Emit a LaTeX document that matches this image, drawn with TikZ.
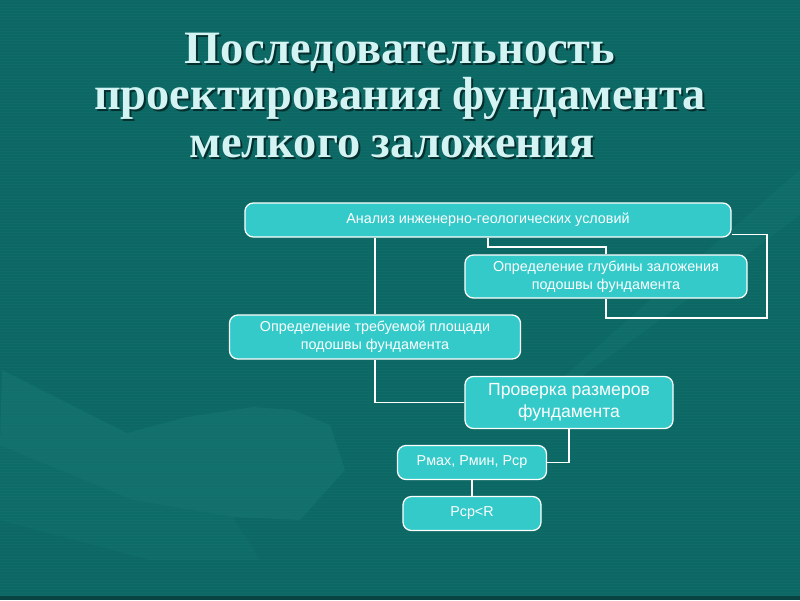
\documentclass[tikz,border=0pt]{standalone}
\usepackage{fontspec}
\setmainfont{Liberation Serif}
\setsansfont{Liberation Sans}
\definecolor{bgc}{RGB}{11,104,100}
\definecolor{handc}{RGB}{26,124,120}
\definecolor{boxc}{RGB}{52,202,202}
\definecolor{titlec}{RGB}{212,244,244}
\begin{document}
\begin{tikzpicture}[x=0.025cm,y=-0.025cm,
  box/.style={draw=white, line width=0.9pt, fill=boxc, rounded corners=6pt, text=white,
    font=\sffamily\fontsize{10.2}{13}\selectfont, align=center, inner sep=0pt},
  bigbox/.style={box, font=\sffamily\fontsize{12.5}{15.5}\selectfont},
  link/.style={draw=white, line width=1.3pt},
  ttl/.style={font=\bfseries\fontsize{33}{33}\selectfont, anchor=base, inner sep=0pt},
  ttlshadow/.style={ttl, text=black, opacity=0.55},
  ttlmain/.style={ttl, text=titlec}]
% background
\fill[bgc] (0,0) rectangle (800,600);
\useasboundingbox (0,0) rectangle (800,600);
\foreach \i in {1,4,...,598} \draw[white, opacity=0.025, line width=0.4pt] (0,\i) -- (800,\i);
% faint hand
\fill[handc, opacity=0.4] (2,370) -- (127,433) -- (187,417) -- (253,407) -- (293,410) -- (330,425)
  -- (345,470) -- (300,520) -- (233,517) -- (133,500) -- (60,470) -- (0,445) -- cycle;
\fill[handc, opacity=0.22] (0,445) -- (133,500) -- (233,517) -- (260,560) -- (150,560) -- (0,520) -- cycle;
\fill[handc, opacity=0.25] (560,380) -- (650,300) -- (800,170) -- (800,215) -- (660,320) -- (570,385) -- cycle;
\fill[black, opacity=0.35] (0,596) rectangle (800,600);
% title
\node[ttlshadow] at (402,65) {Последовательность};
\node[ttlmain] (t1) at (400,63) {Последовательность};
\node[ttlshadow] at (402,111) {проектирования фундамента};
\node[ttlmain] (t2) at (400,109) {проектирования фундамента};
\node[ttlshadow] at (394,159) {мелкого заложения};
\node[ttlmain] (t3) at (392,157) {мелкого заложения};
% boxes
\node[box, minimum width=12.15cm, minimum height=0.85cm] (a) at (488,220) {Анализ инженерно-геологических условий};
\node[box, minimum width=7.05cm, minimum height=1.075cm] (b) at (606,276.5) {Определение глубины заложения\\подошвы фундамента};
\node[box, minimum width=7.275cm, minimum height=1.1cm] (c) at (375,337) {Определение требуемой площади\\подошвы фундамента};
\node[bigbox, minimum width=5.2cm, minimum height=1.3cm] (d) at (569,402.5) {Проверка размеров\\фундамента};
\node[box, minimum width=3.725cm, minimum height=0.85cm] (e) at (472,462.5) {Pмах, Рмин, Рср};
\node[box, minimum width=3.45cm, minimum height=0.85cm] (f) at (472,513.5) {Рср<R};
\coordinate (r1) at (767,318);
% connectors
\draw[link] (a.south -| c.north) -- (c.north);
\draw[link] (a.south) -- ++(0,9) -| (b.north);
\draw[link] ([yshift=2.2pt]a.south east) -| (r1) -| (b.south);
\draw[link] (c.south) |- (d.west);
\draw[link] (d.south) |- (e.east);
\draw[link] (e.south) -- (f.north);
\end{tikzpicture}
\end{document}
